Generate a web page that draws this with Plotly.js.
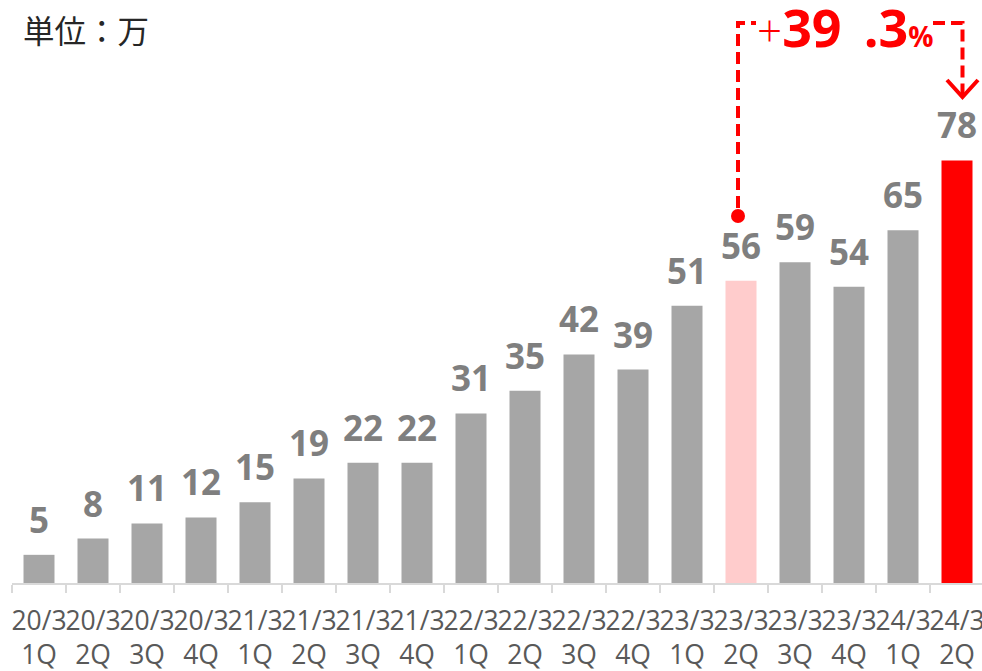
<!DOCTYPE html>
<html>
<head>
<meta charset="utf-8">
<script src="https://cdn.plot.ly/plotly-3.0.1.min.js"></script>
<style>html,body{margin:0;padding:0;background:#fff;}#chart{width:982px;height:671px;}</style>
</head>
<body>
<div id="chart"></div>
<script>
// ---- data ----
const periods = ['20/3','20/3','20/3','20/3','21/3','21/3','21/3','21/3','22/3','22/3','22/3','22/3','23/3','23/3','23/3','23/3','24/3','24/3'];
const quarters = ['1Q','2Q','3Q','4Q','1Q','2Q','3Q','4Q','1Q','2Q','3Q','4Q','1Q','2Q','3Q','4Q','1Q','2Q'];
const values = [5.2, 8.2, 11.0, 12.1, 14.9, 19.3, 22.2, 22.2, 31.3, 35.5, 42.2, 39.4, 51.2, 55.8, 59.2, 54.7, 65.1, 78.0];
const labels = ['5','8','11','12','15','19','22','22','31','35','42','39','51','56','59','54','65','78'];
const unitLabel = '単位：万';
const growthValue = '39 .3';
const compareIndex = 13;
const latestIndex = 17;

// ---- layout helpers ----
const W = 982, H = 671, ML = 12, MR = 0, MT = 0, MB = 88;
const plotH = H - MT - MB;
const pxPerUnit = 5.417;
const yMax = plotH / pxPerUnit;
const xMin = -0.5, xMax = xMin + (W - ML - MR) / 54;
const px2x = px => xMin + (px - ML) / 54;
const py2y = py => (MT + plotH - py) / pxPerUnit;

const cats = periods.map((p, i) => p + '<br>' + quarters[i]);
const colors = values.map((v, i) => i === latestIndex ? '#FF0000' : (i === compareIndex ? '#FFCCCC' : '#A6A6A6'));

const trace = {
  type: 'bar',
  x: cats,
  y: values,
  marker: {color: colors, line: {width: 0}},
  hoverinfo: 'skip'
};

const labelAnns = values.map((v, i) => ({
  x: cats[i], y: v, xref: 'x', yref: 'y',
  text: labels[i], showarrow: false,
  yanchor: 'bottom', yshift: 10,
  font: {family: 'Open Sans, sans-serif', size: 35, color: '#7F7F7F', weight: 700}
}));

const red = '#FF0000';
const dashStyle = '12px,6px';
const topY = py2y(23);
const leftX = px2x(738);
const rightX = px2x(962.5);

const shapes = [
  {type: 'path', xref: 'x', yref: 'y',
   path: `M ${leftX},${py2y(208)} L ${leftX},${topY} L ${px2x(756)},${topY}`,
   line: {color: red, width: 4, dash: dashStyle}},
  {type: 'path', xref: 'x', yref: 'y',
   path: `M ${px2x(933)},${topY} L ${rightX},${topY} L ${rightX},${py2y(95)}`,
   line: {color: red, width: 4, dash: dashStyle}},
  {type: 'path', xref: 'x', yref: 'y',
   path: `M ${px2x(947)},${py2y(80)} L ${rightX},${py2y(97)} L ${px2x(978)},${py2y(80)}`,
   line: {color: red, width: 4}},
  {type: 'circle', xref: 'x', yref: 'y', xsizemode: 'pixel', ysizemode: 'pixel',
   xanchor: leftX, yanchor: py2y(216), x0: -7, x1: 7, y0: -7, y1: 7,
   fillcolor: red, line: {width: 0}}
];

const annotations = labelAnns.concat([
  {xref: 'paper', yref: 'paper', x: (21 - ML) / (W - ML - MR), y: (MT + plotH - 29) / plotH,
   xanchor: 'left', yanchor: 'middle', showarrow: false, text: unitLabel,
   font: {family: 'Noto Sans CJK JP, sans-serif', size: 31.5, color: '#262626'}},
  {xref: 'x', yref: 'y', x: px2x(755), y: py2y(64), xanchor: 'left', yanchor: 'bottom',
   showarrow: false,
   text: '<span style="font-size:44px;font-weight:300">+</span>' + growthValue.replace(' ', '\u00a0\u2009') + '<span style="font-size:28px">%</span>',
   font: {family: 'Open Sans, sans-serif', size: 52, color: red, weight: 700}}
]);

const layout = {
  width: W, height: H,
  margin: {l: ML, r: MR, t: MT, b: MB, pad: 0},
  paper_bgcolor: '#ffffff', plot_bgcolor: '#ffffff',
  showlegend: false,
  bargap: 0.426,
  xaxis: {
    type: 'category',
    range: [xMin, xMax],
    tickangle: 0,
    automargin: false,
    showline: true, linecolor: '#D9D9D9', linewidth: 2,
    ticks: 'outside', tickson: 'boundaries', ticklen: 8, tickcolor: '#D9D9D9', tickwidth: 1.5,
    ticklabelstandoff: 13,
    tickfont: {family: 'Open Sans, sans-serif', size: 26.5, color: '#595959'},
    showgrid: false, zeroline: false, fixedrange: true
  },
  yaxis: {range: [0, yMax], visible: false, showgrid: false, zeroline: false, fixedrange: true},
  shapes: shapes,
  annotations: annotations
};

Plotly.newPlot('chart', [trace], layout, {displayModeBar: false, staticPlot: true});
</script>
</body>
</html>
